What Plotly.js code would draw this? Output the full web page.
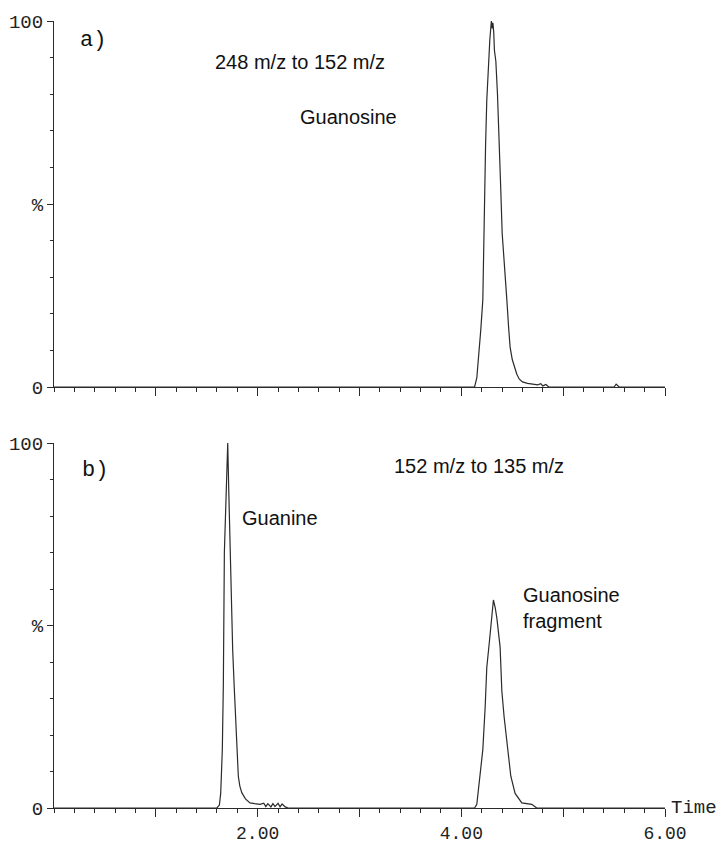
<!DOCTYPE html>
<html>
<head>
<meta charset="utf-8">
<script src="https://cdn.plot.ly/plotly-3.0.1.min.js"></script>
<style>
  html, body { margin: 0; padding: 0; background: #fff; }
  #chart { width: 728px; height: 844px; }
</style>
</head>
<body>
<div id="chart"></div>
<script>
// Panel a) : 248 m/z -> 152 m/z transition (retention time in min, relative intensity %)
const timeA = [0, 0.8, 1.6, 2.4, 3.2, 4.0, 4.13, 4.152, 4.175, 4.191, 4.211, 4.224, 4.238, 4.25, 4.265,
  4.28, 4.295, 4.303, 4.31, 4.318, 4.325, 4.339, 4.355, 4.371, 4.386, 4.401, 4.425, 4.447, 4.465,
  4.479, 4.5, 4.519, 4.545, 4.568, 4.6, 4.65, 4.7, 4.75, 4.78, 4.8, 4.83, 4.86, 5.2, 5.5, 5.52, 5.55, 6.0];
const intensityA = [0, 0, 0, 0, 0, 0, 0, 2.5, 9, 15.6, 23.8, 51, 66, 78.4, 88,
  95, 100, 98, 99.5, 97, 92, 89, 80, 69.4, 55, 42, 31, 23.8, 16,
  10.9, 7.5, 5.5, 3.5, 2.2, 1.4, 1, 0.8, 0.6, 0.9, 0.3, 0.7, 0, 0, 0, 0.8, 0, 0];

// Panel b) : 152 m/z -> 135 m/z transition
const timeB = [0, 0.8, 1.6, 1.624, 1.637, 1.653, 1.663, 1.673, 1.69, 1.706, 1.717, 1.729, 1.742, 1.755,
  1.77, 1.785, 1.8, 1.81, 1.825, 1.844, 1.88, 1.925, 1.97, 2.024, 2.06, 2.08, 2.1, 2.13, 2.15, 2.17,
  2.2, 2.22, 2.24, 2.27, 2.3, 2.5, 3.0, 3.5, 4.0, 4.13, 4.152, 4.178, 4.211, 4.234, 4.25, 4.276,
  4.295, 4.315, 4.332, 4.349, 4.381, 4.398, 4.42, 4.447, 4.486, 4.528, 4.594, 4.692, 4.74, 5.0, 5.5, 6.0];
const intensityB = [0, 0, 0, 0.8, 4, 16, 34, 70, 88, 100, 86, 70, 56, 43,
  33, 25, 15, 8.7, 6, 4.2, 2.5, 1.4, 1.2, 1, 1.3, 0.4, 1.2, 0.3, 1.2, 0.4,
  1.3, 0.3, 1.1, 0.3, 0, 0, 0, 0, 0, 0, 1, 6.9, 16, 27.6, 38.5, 45.7,
  52, 57, 55, 52, 44, 32, 25, 17.7, 8.7, 4, 1.4, 1, 0, 0, 0, 0];

// Axis labelling
const xTickVals = [1, 2, 3, 4, 5, 6];
const xTickTextBottom = ['', '2.00', '', '4.00', '', '6.00'];
const xTickTextTop = ['', '', '', '', '', ''];
const yTickVals = [0, 50, 100];
const yTickText = ['0', '%', '100'];

const W = 728, H = 844, L = 54, R = 63;
const ink = '#2b2b2b';
const monoFamily = 'Liberation Mono, DejaVu Sans Mono, monospace';
const yTickFont = { family: monoFamily, size: 19, color: '#222' };
const xTickFont = { family: monoFamily, size: 18, color: '#222' };
const textFont = { family: 'Liberation Sans, Arial, sans-serif', size: 20, color: '#111' };
const tagFont = { family: monoFamily, size: 22, color: '#111' };

// pixel helpers for placing free text on the page
const px = v => (v - L) / (W - L - R);
const py = v => 1 - v / H;

const traces = [
  { x: timeA, y: intensityA, xaxis: 'x', yaxis: 'y', type: 'scatter', mode: 'lines',
    line: { color: ink, width: 1.2 }, hoverinfo: 'skip' },
  { x: timeB, y: intensityB, xaxis: 'x2', yaxis: 'y2', type: 'scatter', mode: 'lines',
    line: { color: ink, width: 1.2 }, hoverinfo: 'skip' }
];

function xAxis(anchor, ticktext) {
  return {
    anchor: anchor, domain: [0, 1], range: [0, 6], showgrid: false, zeroline: false,
    showline: true, linecolor: ink, linewidth: 1,
    ticks: 'outside', ticklen: 8, tickwidth: 1, tickcolor: ink,
    tickmode: 'array', tickvals: xTickVals, ticktext: ticktext,
    tickfont: xTickFont,
    minor: { dtick: 0.2, tick0: 0, ticks: 'outside', ticklen: 4, tickwidth: 1, tickcolor: ink, showgrid: false }
  };
}
function yAxis(anchor, domain) {
  return {
    anchor: anchor, domain: domain, range: [0, 100], showgrid: false, zeroline: false,
    showline: true, linecolor: ink, linewidth: 1,
    ticks: 'outside', ticklen: 6, tickwidth: 1, tickcolor: ink,
    tickmode: 'array', tickvals: yTickVals, ticktext: yTickText,
    tickfont: yTickFont, ticklabelstandoff: 0,
    minor: { dtick: 10, tick0: 0, ticks: 'outside', ticklen: 3, tickwidth: 1, tickcolor: ink, showgrid: false }
  };
}

const notes = [
  { text: 'a)', x: px(78), y: py(40), font: tagFont },
  { text: '248 m/z to 152 m/z', x: px(213), y: py(62), font: textFont },
  { text: 'Guanosine', x: px(298), y: py(117), font: textFont },
  { text: 'b)', x: px(80), y: py(470), font: tagFont },
  { text: '152 m/z to 135 m/z', x: px(392), y: py(466), font: textFont },
  { text: 'Guanine', x: px(240), y: py(518), font: textFont },
  { text: 'Guanosine<br>fragment', x: px(521), y: py(608), font: textFont, align: 'left' },
  { text: 'Time', x: 6, y: 0, xref: 'x2', yref: 'y2', xshift: 4, font: yTickFont }
].map(a => Object.assign({ showarrow: false, xanchor: 'left', yanchor: 'middle', xref: 'paper', yref: 'paper' }, a));

const layout = {
  width: W, height: H,
  margin: { l: L, r: R, t: 0, b: 0 },
  paper_bgcolor: '#fff', plot_bgcolor: '#fff',
  showlegend: false,
  xaxis: xAxis('y', xTickTextTop),
  yaxis: yAxis('x', [py(387), py(21)]),
  xaxis2: xAxis('y2', xTickTextBottom),
  yaxis2: yAxis('x2', [py(808), py(443)]),
  annotations: notes
};

Plotly.newPlot('chart', traces, layout, { staticPlot: true, displayModeBar: false });
</script>
</body>
</html>
